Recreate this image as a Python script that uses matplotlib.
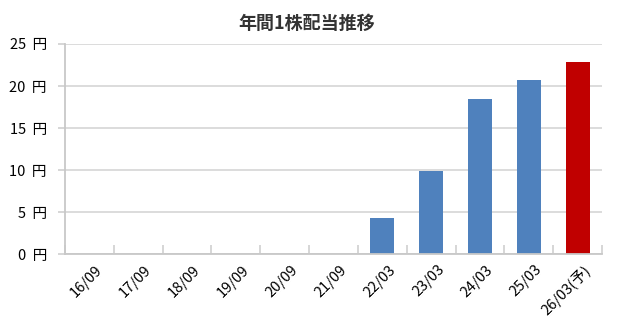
import matplotlib
matplotlib.use('Agg')
import matplotlib.pyplot as plt
import matplotlib.transforms as mtransforms
import numpy as np

plt.rcParams['font.family'] = ['Noto Sans CJK JP', 'DejaVu Sans']

periods = ['16/09', '17/09', '18/09', '19/09', '20/09', '21/09',
           '22/03', '23/03', '24/03', '25/03', '26/03(予)']
dividends = [0, 0, 0, 0, 0, 0, 4.3, 9.9, 18.5, 20.7, 22.9]
is_forecast = [False] * 10 + [True]
yticks = [0, 5, 10, 15, 20, 25]

fig = plt.figure(figsize=(6.23, 3.33), dpi=100)
ax = fig.add_axes([65/623, 1 - 254.3/333, (602 - 65)/623, (254.3 - 44)/333])

x = np.arange(len(periods))
colors = ['#c00000' if f else '#4f81bd' for f in is_forecast]
ax.bar(x, dividends, width=0.49, color=colors, zorder=3)

ax.set_xlim(-0.5, len(periods) - 0.5)
ax.set_ylim(0, 25)

# y axis
ax.set_yticks(yticks)
ax.set_yticklabels([f'{v}  円' for v in yticks], fontsize=10.5, color='#000000')
ax.yaxis.grid(True, color='#d9d9d9', linewidth=1.3, zorder=0)
ax.tick_params(axis='y', length=5, width=1.2, color='#d0d0d0', pad=8)

# x axis: labels at centers, tick marks at boundaries
ax.set_xticks(x)
ax.set_xticklabels(periods, fontsize=10.5, rotation=45, ha='right', va='top',
                   rotation_mode='anchor')
ax.tick_params(axis='x', length=0, pad=6)
offset = mtransforms.ScaledTranslation(6/100, 0, fig.dpi_scale_trans)
for lab in ax.get_xticklabels():
    lab.set_transform(lab.get_transform() + offset)
ax.set_xticks(np.arange(len(periods) + 1) - 0.5, minor=True)
ax.tick_params(axis='x', which='minor', direction='in', length=6.5, width=1.2,
               color='#d0d0d0')

for s in ['top', 'right']:
    ax.spines[s].set_visible(False)
for s in ['left', 'bottom']:
    ax.spines[s].set_color('#c8c8c8')
    ax.spines[s].set_linewidth(1.3)
    ax.spines[s].set_zorder(4)

fig.text(306.5/623, 1 - 23/333, '年間1株配当推移', ha='center', va='center',
         fontsize=13, fontweight='bold', color='#333333')

fig.savefig('out.png', dpi=100)
